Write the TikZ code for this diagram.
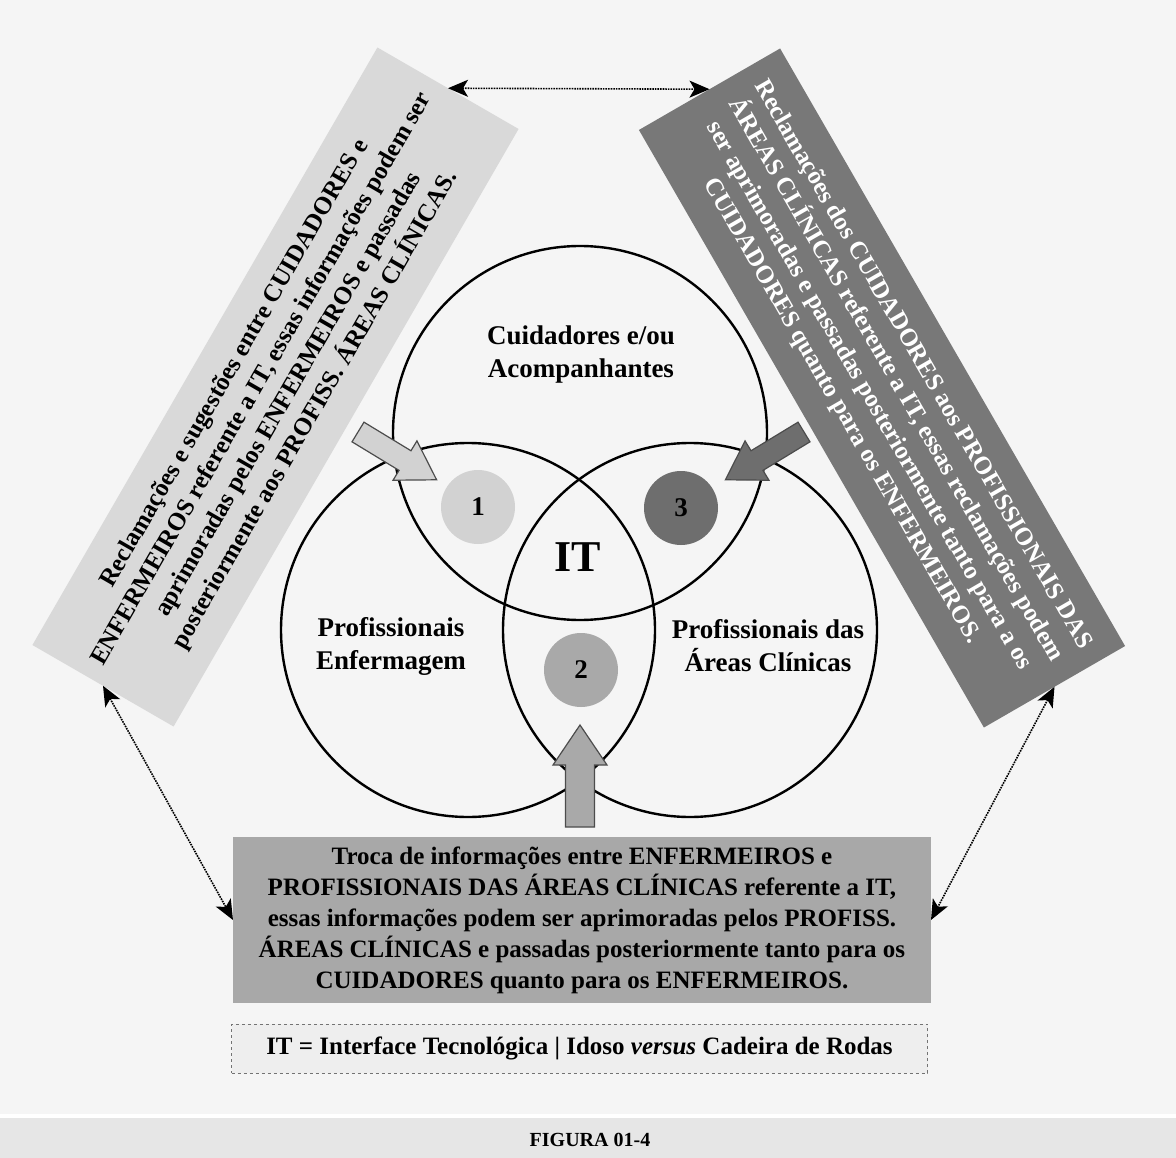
\documentclass[tikz,border=0pt]{standalone}
\usepackage{fontspec}
\setmainfont{Liberation Serif}
\usetikzlibrary{arrows.meta}

\definecolor{paper}{HTML}{F5F5F5}
\definecolor{lightbox}{HTML}{D9D9D9}
\definecolor{darkbox}{HTML}{787878}
\definecolor{midbox}{HTML}{A8A8A8}
\definecolor{band}{HTML}{E6E6E6}
\definecolor{legendfill}{HTML}{EEEEEE}
\definecolor{discone}{HTML}{D2D2D2}
\definecolor{disctwo}{HTML}{A9A9A9}
\definecolor{discthree}{HTML}{6E6E6E}

\begin{document}
\begin{tikzpicture}[x=1pt,y=-1pt,
  every node/.style={inner sep=0pt, outer sep=0pt},
  txt/.style={font=\fontsize{25}{31}\selectfont\bfseries, align=center},
  panel/.style={minimum width=690, minimum height=163, txt},
  ring/.style={circle, draw=black, line width=2.4pt, minimum size=374},
  disc/.style={circle, minimum size=74, font=\fontsize{27}{27}\selectfont\bfseries},
  venntext/.style={font=\fontsize{27}{33}\selectfont\bfseries, align=center},
  link/.style={densely dotted, line width=1.6pt,
    {Stealth[length=20pt,width=17pt,inset=5pt]}-{Stealth[length=20pt,width=17pt,inset=5pt]}},
  blockarrow/.style={line width=1.2pt, draw=black!70, line join=miter},
]
\useasboundingbox (0,0) rectangle (1176,1158);

% page ground and caption band
\fill[paper] (0,0) rectangle (1176,1114);
\fill[white] (0,1114) rectangle (1176,1118);
\fill[band] (0,1118) rectangle (1176,1158);

% the three text panels
\node[panel, fill=lightbox, rotate=60] (leftbox) at (275.5,387)
  {Reclamações e sugestões entre CUIDADORES e\\
   ENFERMEIROS referente a IT, essas informações podem ser\\
   aprimoradas pelos ENFERMEIROS e passadas\\
   posteriormente aos PROFISS. ÁREAS CLÍNICAS.};

\node[panel, fill=darkbox, text=white, rotate=-60] (rightbox) at (882,388)
  {Reclamações dos CUIDADORES aos PROFISSIONAIS DAS\\
   ÁREAS CLÍNICAS referente a IT, essas reclamações podem\\
   ser aprimoradas e passadas posteriormente tanto para a os\\
   CUIDADORES quanto para os ENFERMEIROS.};

\node[txt, fill=midbox, minimum width=698, minimum height=166] (bottombox) at (582,920)
  {Troca de informações entre ENFERMEIROS e\\
   PROFISSIONAIS DAS ÁREAS CLÍNICAS referente a IT,\\
   essas informações podem ser aprimoradas pelos PROFISS.\\
   ÁREAS CLÍNICAS e passadas posteriormente tanto para os\\
   CUIDADORES quanto para os ENFERMEIROS.};

% legend and caption
\node[txt, fill=legendfill, draw=black!55, dashed, line width=1pt,
      minimum width=696, minimum height=49] (legend) at (579.5,1048.5)
  {IT = Interface Tecnológica \textbar\ Idoso \textit{versus} Cadeira de Rodas};
\node[font=\fontsize{20}{20}\selectfont\bfseries] (caption) at (590,1140) {FIGURA 01-4};

% dotted links between the panels
\draw[link] (leftbox.east) -- (rightbox.west);
\draw[link] (leftbox.west) -- (bottombox.west);
\draw[link] (rightbox.east) -- (bottombox.east);

% numbered areas
\node[disc, fill=discone] (d1) at (478,507) {1};
\node[disc, fill=disctwo] (d2) at (581,670) {2};
\node[disc, fill=discthree] (d3) at (681,508) {3};

% the three overlapping circles
\node[ring] (ctop) at (580,433) {};
\node[ring] (cleft) at (468,630) {};
\node[ring] (cright) at (690,630) {};

\node[venntext] (ltop) at (581,355) {Cuidadores e/ou\\Acompanhantes};
\node[venntext] (lleft) at (391,646) {Profissionais\\Enfermagem};
\node[venntext] (lright) at (768,646) {Profissionais das\\Áreas Clínicas};
\node[font=\fontsize{44}{44}\selectfont\bfseries] (it) at (578,557) {IT};

% block arrows feeding the numbered areas
\begin{scope}[shift={(358,432)}, rotate=-31.3]
  \filldraw[blockarrow, fill=discone]
    (0,-11.5) -- (55,-11.5) -- (55,-23) -- (92,0) -- (55,23) -- (55,11.5) -- (0,11.5) -- cycle;
\end{scope}
\begin{scope}[shift={(804,432)}, rotate=211.3]
  \filldraw[blockarrow, fill=discthree]
    (0,-11.5) -- (55,-11.5) -- (55,-23) -- (92,0) -- (55,23) -- (55,11.5) -- (0,11.5) -- cycle;
\end{scope}
\begin{scope}[shift={(580,827)}, rotate=90]
  \filldraw[blockarrow, fill=disctwo]
    (0,-14.5) -- (62,-14.5) -- (62,-27) -- (102,0) -- (62,27) -- (62,14.5) -- (0,14.5) -- cycle;
\end{scope}
\end{tikzpicture}
\end{document}
